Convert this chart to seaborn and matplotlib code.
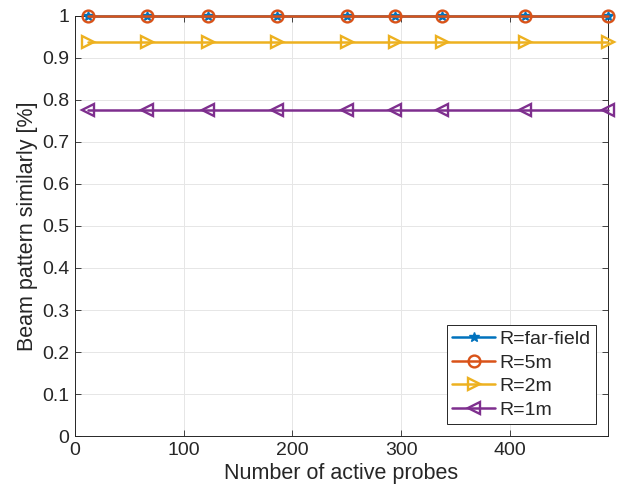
import matplotlib
matplotlib.use('Agg')
import matplotlib.pyplot as plt
import seaborn as sns
import pandas as pd

#%% data
probes = [12, 66, 122, 186, 250, 294, 338, 414, 490]
sim_far = [1.0] * 9
sim_5m = [1.0] * 9
sim_2m = [0.937] * 9
sim_1m = [0.775] * 9

labels = ['R=far-field', 'R=5m', 'R=2m', 'R=1m']
colors = ['#0072BD', '#D95319', '#EDB120', '#7E2F8E']
markers = ['*', 'o', '>', '<']
yticks = [0, 0.1, 0.2, 0.3, 0.4, 0.5, 0.6, 0.7, 0.8, 0.9, 1]
ytick_labels = ['0', '0.1', '0.2', '0.3', '0.4', '0.5', '0.6', '0.7', '0.8', '0.9', '1']

#%% style
sns.set_style('whitegrid')
plt.rcParams['font.family'] = ['Liberation Sans', 'DejaVu Sans']
plt.rcParams['text.color'] = '#262626'
plt.rcParams['axes.labelcolor'] = '#262626'
plt.rcParams['xtick.color'] = '#262626'
plt.rcParams['ytick.color'] = '#262626'

fig = plt.figure(figsize=(6.24, 4.95), dpi=100)
ax = fig.add_axes([0.120, 0.119, 0.854, 0.849])

series = [sim_far, sim_5m, sim_2m, sim_1m]
for vals, lab, col, mk in zip(series, labels, colors, markers):
    df = pd.DataFrame({'probes': probes, 'sim': vals})
    if mk == '*':
        sns.lineplot(data=df, x='probes', y='sim', ax=ax, color=col, label=lab,
                     marker=mk, markersize=7, markeredgecolor=col,
                     markerfacecolor=col, markeredgewidth=1.0, linewidth=1.8,
                     clip_on=False, zorder=3)
    else:
        sns.lineplot(data=df, x='probes', y='sim', ax=ax, color=col, label=lab,
                     marker=mk, markersize=8.5, markeredgecolor=col,
                     markerfacecolor='none', markeredgewidth=1.7, linewidth=1.8,
                     clip_on=False, zorder=3)

ax.set_xlim(0, 490)
ax.set_ylim(0, 1)
ax.set_xticks([0, 100, 200, 300, 400])
ax.set_yticks(yticks)
ax.set_yticklabels(ytick_labels)
ax.tick_params(axis='both', labelsize=14, direction='in', length=4, width=0.6,
               top=True, right=True, bottom=True, left=True, pad=4)
ax.set_xlabel('Number of active probes', fontsize=15.5, labelpad=3)
ax.set_ylabel('Beam pattern similarly [%]', fontsize=15.5, labelpad=3)
ax.grid(True, color='#e6e6e6', linewidth=0.7)
for sp in ax.spines.values():
    sp.set_color('#262626')
    sp.set_linewidth(0.7)

leg = ax.legend(loc='lower right', fontsize=14, frameon=True, fancybox=False,
                borderpad=0.3, labelspacing=0.3, handlelength=2.2,
                handletextpad=0.2, borderaxespad=0.6)
leg.get_frame().set_edgecolor('#262626')
leg.get_frame().set_linewidth(0.7)
leg.get_frame().set_alpha(1)
leg.set_zorder(10)

plt.savefig('out.png', dpi=100)
